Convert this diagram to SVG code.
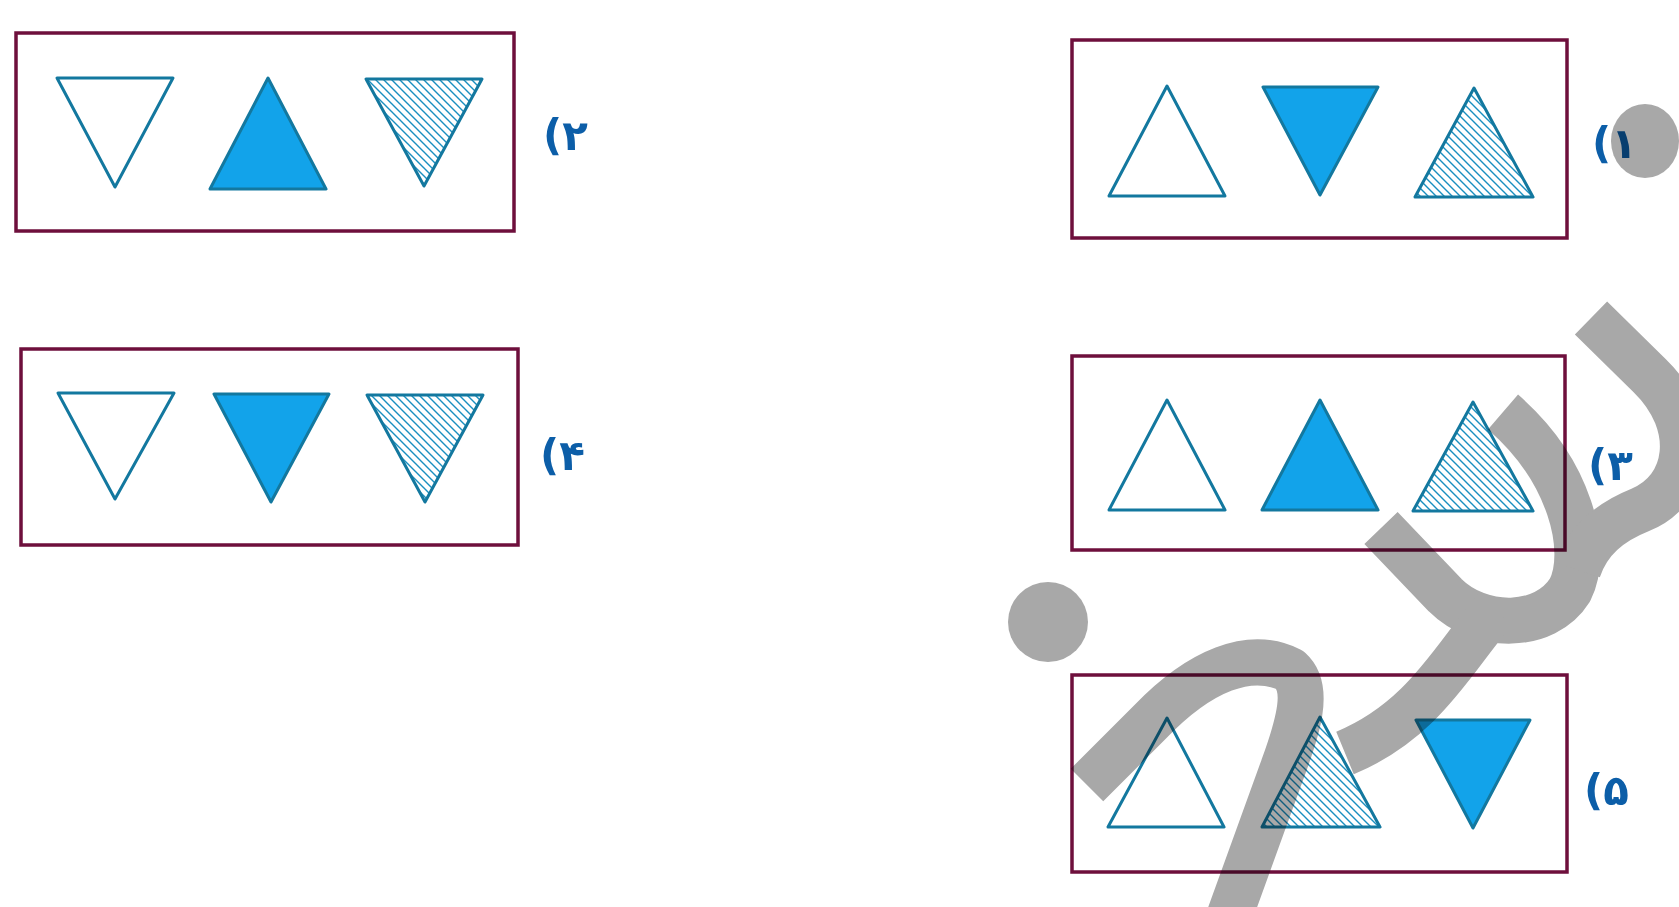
<svg xmlns="http://www.w3.org/2000/svg" width="1679" height="907" viewBox="0 0 1679 907">
<defs>
<pattern id="hatch" patternUnits="userSpaceOnUse" width="8" height="8">
<path d="M-1,-1 L9,9 M-9,-1 L1,9 M7,-1 L17,9" stroke="#1a8fc0" stroke-width="1.4"/>
</pattern>
</defs>
<style>
.box{fill:none;stroke:#6e0f3c;stroke-width:3.5}
.tri{stroke:#13789f;stroke-width:3;stroke-linejoin:round}
.open{fill:#fff}
.solid{fill:#12a3ea}
.hat{fill:url(#hatch)}
.lbl{font-family:"DejaVu Sans",sans-serif;font-size:42px;font-weight:bold;fill:#0c5ea8}
.wm{fill:none;stroke:#a8a8a8;stroke-width:46;stroke-linejoin:round}
.wmf{fill:#a8a8a8}
</style>
<rect width="1679" height="907" fill="#fff"/>
<g id="opt2">
<rect class="box" x="16" y="33" width="498" height="198"/>
<polygon class="tri open" points="57,78 173,78 115,187"/>
<polygon class="tri solid" points="268,78 326,189 210,189"/>
<polygon class="tri hat" points="366,79 482,79 424,186"/>
<text class="lbl" x="543" y="150">(۲</text>
</g>
<g id="opt4">
<rect class="box" x="21" y="349" width="497" height="196"/>
<polygon class="tri open" points="58,393 174,393 115,499"/>
<polygon class="tri solid" points="214,394 329,394 271,502"/>
<polygon class="tri hat" points="367,395 483,395 425,502"/>
<text class="lbl" x="540" y="470">(۴</text>
</g>
<g id="opt1">
<rect class="box" x="1072" y="40" width="495" height="198"/>
<polygon class="tri open" points="1167,86 1225,196 1109,196"/>
<polygon class="tri solid" points="1263,87 1378,87 1320,195"/>
<polygon class="tri hat" points="1474,88 1533,197 1415,197"/>
<text class="lbl" x="1592" y="158">(۱</text>
</g>
<g id="opt3">
<rect class="box" x="1072" y="356" width="493" height="194"/>
<polygon class="tri open" points="1167,400 1225,510 1109,510"/>
<polygon class="tri solid" points="1320,400 1378,510 1262,510"/>
<polygon class="tri hat" points="1473,402 1533,511 1413,511"/>
<text class="lbl" x="1588" y="480">(۳</text>
</g>
<g id="opt5">
<rect class="box" x="1072" y="675" width="495" height="197"/>
<polygon class="tri open" points="1167,718 1224,827 1108,827"/>
<polygon class="tri hat" points="1320,717 1380,827 1262,827"/>
<polygon class="tri solid" points="1416,720 1530,720 1473,828"/>
<text class="lbl" x="1584" y="805">(۵</text>
</g>
<g id="connectors"></g>
<g id="watermark" style="mix-blend-mode:multiply">
<ellipse class="wmf" cx="1645" cy="141" rx="34" ry="37"/>
<circle class="wmf" cx="1048" cy="622" r="40"/>
<path class="wm" d="M1087,785 L1150,722 C1200,670 1250,650 1290,670 C1312,690 1295,735 1283,768 L1228,920"/>
<path class="wm" d="M1381,528 L1445,595 C1480,630 1545,630 1570,590 C1590,550 1570,470 1503,412"/>
<path class="wm" d="M1495,610 C1455,655 1425,720 1345,753"/>
<path class="wm" d="M1591,318 L1650,376 C1700,425 1690,490 1640,510 C1610,522 1588,540 1578,570"/>
</g>
</svg>
